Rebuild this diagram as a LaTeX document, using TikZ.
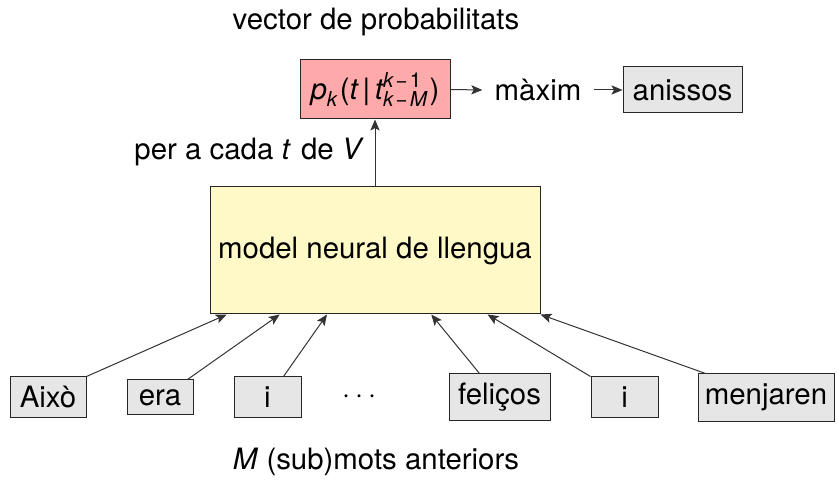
\documentclass[tikz,border=0pt]{standalone}
\usepackage{amsmath}
\usepackage{fontspec}
\setmainfont{TeX Gyre Heros}
\usetikzlibrary{arrows.meta,calc}
\definecolor{probfill}{RGB}{255,170,170}
\definecolor{modelfill}{RGB}{255,249,200}
\definecolor{wordfill}{RGB}{230,230,230}
\newcommand{\ivar}[1]{\textit{#1}}
\newcommand{\smin}{\mkern2mu\text{−}\mkern2mu}
\begin{document}
\begin{tikzpicture}[x=0.5pt,y=-0.5pt,
  font=\fontsize{14.7}{17}\selectfont,
  box/.style={draw=black!85,line width=0.5pt,inner sep=0pt},
  wordbox/.style={box,fill=wordfill},
  link/.style={draw=black!80,line width=0.5pt,-{Stealth[length=5.5pt,width=4.6pt,inset=1.2pt]}}]
\useasboundingbox (0,0) rectangle (838,490);

% output side
\node (title) at (376,22) {vector de probabilitats};
\node[box,fill=probfill,minimum width=75pt,minimum height=29.5pt] (prob) at (375,89.5)
  {$\ivar{p}_{\ivar{k}}\mkern1mu\text{(}\ivar{t}\mkern3mu\text{|}\mkern3mu\ivar{t}^{\ivar{k}\smin\text{1}}_{\ivar{k}\smin\ivar{M}}\mkern1mu\text{)}$};
\node[inner sep=6pt] (max) at (538,90) {màxim};
\node[wordbox,minimum width=59.5pt,minimum height=23pt] (out) at (682.5,90) {anissos};

% language model
\node[box,fill=modelfill,minimum width=165pt,minimum height=63.5pt] (model) at (375,250.5)
  {model neural de llengua};
\node[anchor=east] (each) at (373,152) {per a cada \ivar{t}\kern1pt\ de \ivar{V}\kern1pt};

% context words
\node[wordbox,minimum width=38pt,minimum height=20.5pt] (w1) at (48,397.5) {Això};
\node[wordbox,minimum width=33pt,minimum height=17.5pt] (w2) at (160,397.5) {era};
\node[wordbox,minimum width=33.5pt,minimum height=20.5pt] (w3) at (267.5,397.5) {i};
\node (dots) at (362,397) {$\cdots$};
\node[wordbox,minimum width=50.5pt,minimum height=23pt] (w4) at (499.5,397) {feliços};
\node[wordbox,minimum width=33.5pt,minimum height=20.5pt] (w5) at (624.5,397.5) {i};
\node[wordbox,minimum width=68pt,minimum height=23.5pt] (w6) at (766,397.5) {menjaren};
\node (ctx) at (376,462) {\ivar{M} (sub)mots anteriors};

% entry points along the bottom of the model
\coordinate (m1) at ($(model.south west)!0.052!(model.south east)$);
\coordinate (m2) at ($(model.south west)!0.212!(model.south east)$);
\coordinate (m3) at ($(model.south west)!0.355!(model.south east)$);
\coordinate (m4) at ($(model.south west)!0.67!(model.south east)$);
\coordinate (m5) at ($(model.south west)!0.84!(model.south east)$);
\coordinate (m6) at (model.south east);

% connectors
\draw[link] (w1.north east) -- (m1);
\draw[link] ($(w2.north east)+(-6,0)$) -- (m2);
\draw[link] ($(w3.north east)+(-18,0)$) -- (m3);
\draw[link] ($(w4.north west)+(31,0)$) -- (m4);
\draw[link] (w5.north west) -- (m5);
\draw[link] ($(w6.north west)+(8,0)$) -- (m6);
\draw[link] (model.north) -- (prob.south);
\draw[link] (prob.east) -- (max.west);
\draw[link] (max.east) -- (out.west);
\end{tikzpicture}
\end{document}
